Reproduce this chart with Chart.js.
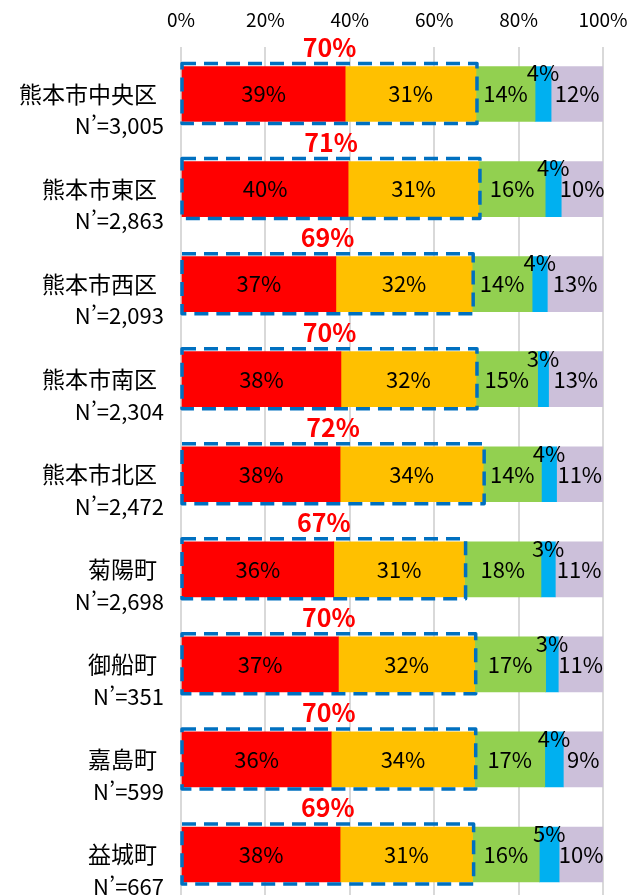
<!DOCTYPE html>
<html lang="ja">
<head>
    <meta charset="UTF-8">
    <meta name="viewport" content="width=device-width, initial-scale=1.0">
    <title>地域別グラフ</title>
    <script src="https://cdn.jsdelivr.net/npm/chart.js"></script>
    <style>
        html, body {
            margin: 0;
            padding: 0;
            background-color: #ffffff;
            overflow: hidden;
        }

        .grafico-container {
            position: relative;
            width: 627px;
            height: 902px;
        }
    </style>
</head>
<body>

<div class="grafico-container">
    <canvas id="grafico"></canvas>
</div>

<script>
    // 地域と回答数
    const categorias = ['熊本市中央区', '熊本市東区', '熊本市西区', '熊本市南区', '熊本市北区', '菊陽町', '御船町', '嘉島町', '益城町'];
    const muestras = ['3,005', '2,863', '2,093', '2,304', '2,472', '2,698', '351', '599', '667'];

    // 各回答の割合 (%)
    const serieRoja = [38.9, 39.6, 36.7, 37.9, 37.7, 36.2, 37.3, 35.6, 37.7];
    const serieNaranja = [31.0, 31.0, 32.3, 32.0, 33.9, 31.0, 32.3, 34.0, 31.4];
    const serieVerde = [14.0, 15.7, 14.2, 14.6, 13.8, 18.1, 16.8, 16.6, 15.8];
    const serieAzul = [3.8, 3.8, 3.6, 2.6, 3.6, 3.4, 3.0, 4.4, 4.7];
    const serieLila = [12.3, 9.9, 13.2, 12.9, 11.0, 11.3, 10.6, 9.4, 10.4];

    // 目盛り
    const ticksX = [0, 20, 40, 60, 80, 100];

    const fuente = '"Noto Sans CJK JP", "Noto Sans", sans-serif';

    // ラベル・点線枠・合計を描くプラグイン
    const etiquetas = {
        id: 'etiquetas',
        afterDatasetsDraw(chart) {
            const ctx = chart.ctx;
            const yScale = chart.scales.y;
            const metaRoja = chart.getDatasetMeta(0);
            const metaNaranja = chart.getDatasetMeta(1);
            ctx.save();

            // 値ラベル
            ctx.textAlign = 'center';
            ctx.textBaseline = 'middle';
            ctx.fillStyle = '#000000';
            ctx.font = '22px ' + fuente;
            chart.data.datasets.forEach((ds, d) => {
                chart.getDatasetMeta(d).data.forEach((bar, i) => {
                    const cx = (bar.x + bar.base) / 2;
                    const cy = d === 3 ? bar.y - 21 : bar.y;
                    ctx.fillText(Math.round(ds.data[i]) + '%', cx, cy);
                });
            });

            // 点線の枠と合計
            metaRoja.data.forEach((bar, i) => {
                const izq = bar.base;
                const der = metaNaranja.data[i].x + 1;
                const arriba = bar.y - bar.height / 2;
                const abajo = bar.y + bar.height / 2;

                ctx.setLineDash([14, 8]);
                ctx.lineWidth = 3.5;
                ctx.lineJoin = 'round';
                ctx.strokeStyle = '#0070C0';
                ctx.strokeRect(izq, arriba - 3, der - izq, abajo - arriba + 5);
                ctx.setLineDash([]);

                const total = Math.round(serieRoja[i] + serieNaranja[i]);
                ctx.fillStyle = '#FF0000';
                ctx.font = 'bold 25px ' + fuente;
                ctx.fillText(total + '%', (izq + der) / 2, arriba - 19);
            });

            // 地域名とN'
            ctx.fillStyle = '#000000';
            ctx.textAlign = 'right';
            categorias.forEach((nombre, i) => {
                const y = yScale.getPixelForValue(i);
                ctx.font = '23px ' + fuente;
                ctx.fillText(nombre, 157, y);
                ctx.font = '22px ' + fuente;
                ctx.fillText('N’=' + muestras[i], 164, y + 32);
            });

            ctx.restore();
        }
    };

    const ctxGrafico = document.getElementById('grafico').getContext('2d');
    new Chart(ctxGrafico, {
        type: 'bar',
        data: {
            labels: categorias,
            datasets: [
                { data: serieRoja, backgroundColor: '#FF0000' },
                { data: serieNaranja, backgroundColor: '#FFC000' },
                { data: serieVerde, backgroundColor: '#92D050' },
                { data: serieAzul, backgroundColor: '#00B0F0' },
                { data: serieLila, backgroundColor: '#CCC0DA' }
            ]
        },
        options: {
            indexAxis: 'y',
            responsive: true,
            maintainAspectRatio: false,
            animation: false,
            layout: {
                padding: { left: 0, right: 24, top: 0, bottom: 0 }
            },
            datasets: {
                bar: {
                    barThickness: 55,
                    borderWidth: 0
                }
            },
            scales: {
                x: {
                    position: 'top',
                    stacked: true,
                    min: 0,
                    max: 100,
                    afterBuildTicks: scale => {
                        scale.ticks = ticksX.map(v => ({ value: v }));
                    },
                    afterFit: scale => {
                        scale.height = 46.5;
                        scale.paddingLeft = 0;
                        scale.paddingRight = 0;
                    },
                    ticks: {
                        padding: 15,
                        color: '#000000',
                        font: { family: fuente, size: 19 },
                        callback: v => v + '%'
                    },
                    grid: {
                        color: '#D9D9D9',
                        lineWidth: 2,
                        drawTicks: false
                    },
                    border: { display: false }
                },
                y: {
                    stacked: true,
                    ticks: { display: false },
                    grid: { display: false },
                    border: { display: false },
                    afterFit: scale => {
                        scale.width = 181;
                    }
                }
            },
            plugins: {
                legend: { display: false },
                tooltip: { enabled: false }
            }
        },
        plugins: [etiquetas]
    });
</script>

</body>
</html>
